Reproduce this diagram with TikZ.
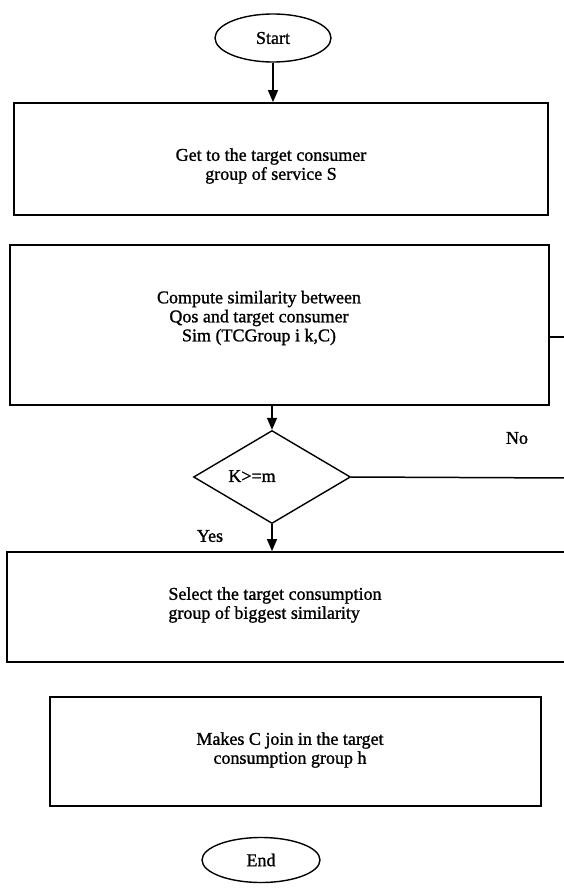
\documentclass[tikz,border=0pt]{standalone}
\usepackage{fontspec}
\setmainfont{Liberation Serif}[BoldFont={Liberation Serif}, BoldFeatures={FakeBold=1.2}]
\usetikzlibrary{shapes.geometric,arrows.meta}
\begin{document}
\begin{tikzpicture}[x=1pt,y=-1pt,
  boxnode/.style={draw, line width=1.8pt, inner sep=0pt},
  termnode/.style={draw, ellipse, line width=1.4pt, inner sep=0pt},
  decnode/.style={draw, diamond, line width=1.4pt, inner sep=0pt},
  lbl/.style={font=\fontsize{18}{19}\selectfont\bfseries, inner sep=0pt},
  conn/.style={line width=1.5pt},
  arr/.style={line width=1.5pt, -{Triangle[length=12pt,width=10pt]}}]
\useasboundingbox (0,0) rectangle (564,891);
\clip (0,0) rectangle (564,891);
% shapes
\node[termnode, minimum width=116pt, minimum height=48pt] (start) at (273,38) {};
\node[lbl] (tstart) at (273,38) {Start};
\node[boxnode, minimum width=534pt, minimum height=112pt] (b1) at (281,159) {};
\node[lbl, align=center] (t1) at (271,166) {Get to the target consumer\\group of service S};
\node[boxnode, minimum width=539pt, minimum height=160pt] (b2) at (279.5,325) {};
\node[lbl, align=center] (t2) at (259,318) {Compute similarity between\\Qos and target consumer\\Sim (TCGroup i k,C)};
\node[decnode, minimum width=157pt, minimum height=93pt] (d) at (272,477) {};
\node[lbl] (td) at (252,476) {K>=m};
\node[lbl] (tno) at (517,438) {No};
\node[lbl] (tyes) at (210,536) {Yes};
\node[boxnode, minimum width=580pt, minimum height=110pt] (b3) at (297,607) {};
\node[lbl, align=left] (t3) at (275,605) {Select the target consumption\\group of biggest similarity};
\node[boxnode, minimum width=491pt, minimum height=109pt] (b4) at (295.5,751.5) {};
\node[lbl, align=center] (t4) at (290,750) {Makes C join in the target\\consumption group h};
\node[termnode, minimum width=118pt, minimum height=45pt] (stop) at (261,860) {};
\node[lbl] (tstop) at (261,860) {End};
% connectors
\coordinate (b2out) at (570,337);
\coordinate (noend) at (570,478);
\draw[arr] (start.south) -- (start.south |- b1.north);
\draw[arr] (b2.south -| d.north) -- (d.north);
\draw[arr] (d.south) -- (d.south |- b3.north);
\draw[conn] (b2.east |- b2out) -- (b2out);
\draw[conn] (d.east) -- (noend);
\end{tikzpicture}
\end{document}
